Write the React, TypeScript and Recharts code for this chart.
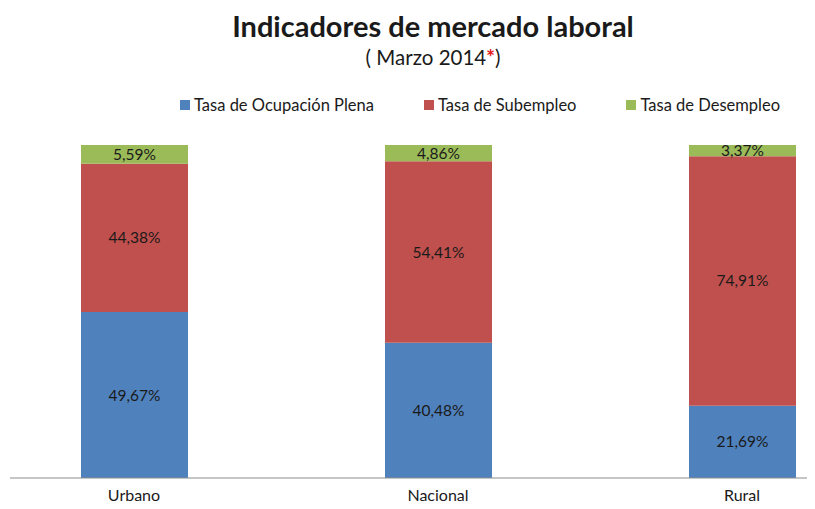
import React from 'react';
import { BarChart, Bar, XAxis, YAxis, LabelList } from 'recharts';

const categories = ['Urbano', 'Nacional', 'Rural'];
const ocupacionPlena = [49.67, 40.48, 21.69];
const subempleo = [44.38, 54.41, 74.91];
const desempleo = [5.59, 4.86, 3.37];

const seriesKeys = ['ocupacion', 'subempleo', 'desempleo'];
const seriesNames = ['Tasa de Ocupación Plena', 'Tasa de Subempleo', 'Tasa de Desempleo'];
const seriesColors = ['#4F81BD', '#C0504D', '#9BBB59'];

const data = categories.map((name, i) => ({
  name,
  ocupacion: ocupacionPlena[i],
  subempleo: subempleo[i],
  desempleo: desempleo[i],
}));

const FONT = 'Lato, "Open Sans", sans-serif';

const fmt = (v: any) => Number(v).toFixed(2).replace('.', ',') + '%';

const App = () => {
  const labelStyle = { fill: '#1a1a1a', fontSize: 15.5, fontFamily: FONT };
  return (
    <div style={{ position: 'relative', width: 815, height: 509, margin: -8, background: '#fff', fontFamily: FONT, overflow: 'hidden' }}>
      <div style={{ position: 'absolute', top: 8, left: 0, width: 866, textAlign: 'center', fontSize: 29, fontWeight: 700, color: '#1a1a1a' }}>
        Indicadores de mercado laboral
      </div>
      <div style={{ position: 'absolute', top: 45, left: 0, width: 866, textAlign: 'center', fontSize: 20.5, color: '#1a1a1a' }}>
        ( Marzo 2014<span style={{ color: '#e31a1c', fontWeight: 900 }}>*</span>)
      </div>
      <div style={{ position: 'absolute', top: 95, left: 180, width: 640, display: 'flex', whiteSpace: 'nowrap', fontSize: 16.5, color: '#1a1a1a' }}>
        {seriesNames.map((n, i) => (
          <div key={n} style={{ display: 'flex', alignItems: 'center', marginRight: 50 }}>
            <span style={{ width: 10, height: 10, background: seriesColors[i], marginRight: 4, display: 'inline-block' }} />
            <span>{n}</span>
          </div>
        ))}
      </div>
      <BarChart
        width={815}
        height={509}
        data={data}
        stackOffset="expand"
        style={{ overflow: 'visible' }}
        margin={{ top: 145, right: 0, left: 10, bottom: 0 }}
      >
        <XAxis
          dataKey="name"
          height={31}
          padding={{ left: -28, right: -79 }}
          axisLine={{ stroke: '#8c8c8c' }}
          tickLine={false}
          tick={{ fill: '#1a1a1a', fontSize: 16, fontFamily: FONT }}
          tickMargin={12}
          tickSize={0}
        />
        <YAxis hide domain={[0, 1]} />
        {seriesKeys.map((k, i) => (
          <Bar key={k} dataKey={k} name={seriesNames[i]} stackId="a" fill={seriesColors[i]} barSize={107} isAnimationActive={false}>
            <LabelList dataKey={k} position="center" formatter={fmt} style={labelStyle} />
          </Bar>
        ))}
      </BarChart>
    </div>
  );
};

export default App;
